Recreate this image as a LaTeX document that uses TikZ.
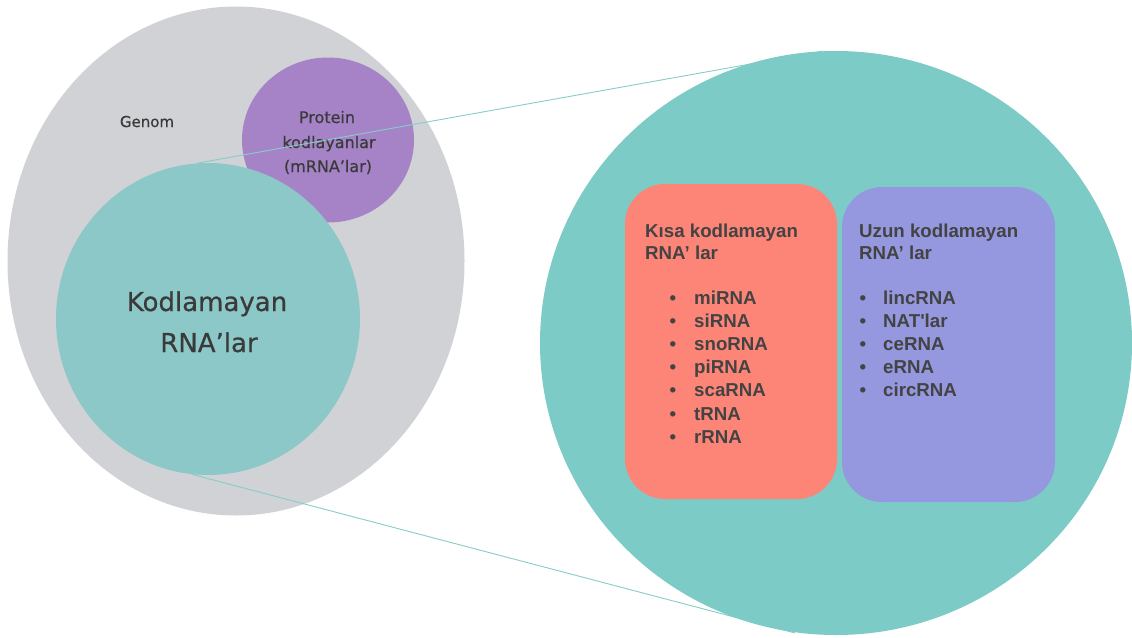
\documentclass[tikz,border=0pt]{standalone}
\usepackage{fontspec}
\setmainfont{Liberation Sans}
\newfontfamily\handfont{DejaVu Sans}[FakeBold=0.6]
\newfontfamily\listfont{Liberation Sans}[Ligatures=TeXOff]
\usetikzlibrary{shapes.geometric}
\definecolor{grayc}{HTML}{D1D2D6}
\definecolor{purplec}{HTML}{A683C7}
\definecolor{smallteal}{HTML}{8CC8C7}
\definecolor{bigteal}{HTML}{7CCBC7}
\definecolor{linkc}{HTML}{86CDC9}
\definecolor{redc}{HTML}{FD8577}
\definecolor{violetc}{HTML}{9598DF}
\definecolor{txt}{HTML}{434343}
\definecolor{txthand}{HTML}{3A3A3A}
\begin{document}
\begin{tikzpicture}[x=1pt,y=-1pt,
  blob/.style={ellipse, inner sep=0pt, draw=none},
  link/.style={draw=linkc, line width=0.9pt},
  panel/.style={rectangle, rounded corners=40pt, inner sep=0pt, draw=none},
  listtext/.style={anchor=base west, inner sep=0pt, text=txt, font=\listfont\bfseries\fontsize{18.7}{22}\selectfont},
  bullet/.style={anchor=base, inner sep=0pt, text=txt, font=\listfont\bfseries\fontsize{18.7}{22}\selectfont},
  hand/.style={anchor=base, inner sep=0pt, text=txthand}
]
\useasboundingbox (0,0) rectangle (1132,637);
% left Venn
\node[blob, fill=grayc, minimum width=457pt, minimum height=509pt] (genom) at (236,261) {};
\node[blob, fill=purplec, minimum width=172pt, minimum height=165pt] (protein) at (328,140) {};
\node[blob, fill=smallteal, minimum width=304pt, minimum height=312pt] (noncoding) at (208,319) {};
\node[hand, font=\handfont\fontsize{15}{18}\selectfont] (genomlabel) at (147,127) {Genom};
\node[hand, font=\handfont\fontsize{16}{19}\selectfont] (prot1) at (327,123) {Protein};
\node[hand, font=\handfont\fontsize{16}{19}\selectfont] (prot2) at (329,148) {kodlayanlar};
\node[hand, font=\handfont\fontsize{16}{19}\selectfont] (prot3) at (328,172) {(mRNA’lar)};
\node[hand, font=\handfont\fontsize{26}{30}\selectfont] (nc1) at (207,311) {Kodlamayan};
\node[hand, font=\handfont\fontsize{26}{30}\selectfont] (nc2) at (209,352) {RNA’lar};
% zoom lines
\draw[link] (noncoding.94) -- (823,51) coordinate (topend);
\draw[link] (noncoding.-96) -- (795,633) coordinate (botend);
% big circle
\node[blob, fill=bigteal, minimum width=592pt, minimum height=584pt] (zoom) at (836,343) {};
% panels
\node[panel, fill=redc, minimum width=212pt, minimum height=315pt] (short) at (731,341.5) {};
\node[panel, fill=violetc, minimum width=213pt, minimum height=315pt] (long) at (948.5,344.5) {};
% short ncRNA text
\node[listtext] (sh1) at (645,237) {Kısa kodlamayan};
\node[listtext] (sh2) at (645,259) {RNA’ lar};
\foreach \t [count=\i] in {miRNA,siRNA,snoRNA,piRNA,scaRNA,tRNA,rRNA}{
  \node[bullet] (sb\i) at (673,{304+23.2*(\i-1)}) {•};
  \node[listtext] (si\i) at (694,{304+23.2*(\i-1)}) {\t};
}
% long ncRNA text
\node[listtext] (lh1) at (859,237) {Uzun kodlamayan};
\node[listtext] (lh2) at (859,259) {RNA’ lar};
\foreach \t [count=\i] in {lincRNA,NAT'lar,ceRNA,eRNA,circRNA}{
  \node[bullet] (lb\i) at (863,{304+23.2*(\i-1)}) {•};
  \node[listtext] (li\i) at (883,{304+23.2*(\i-1)}) {\t};
}
\end{tikzpicture}
\end{document}
